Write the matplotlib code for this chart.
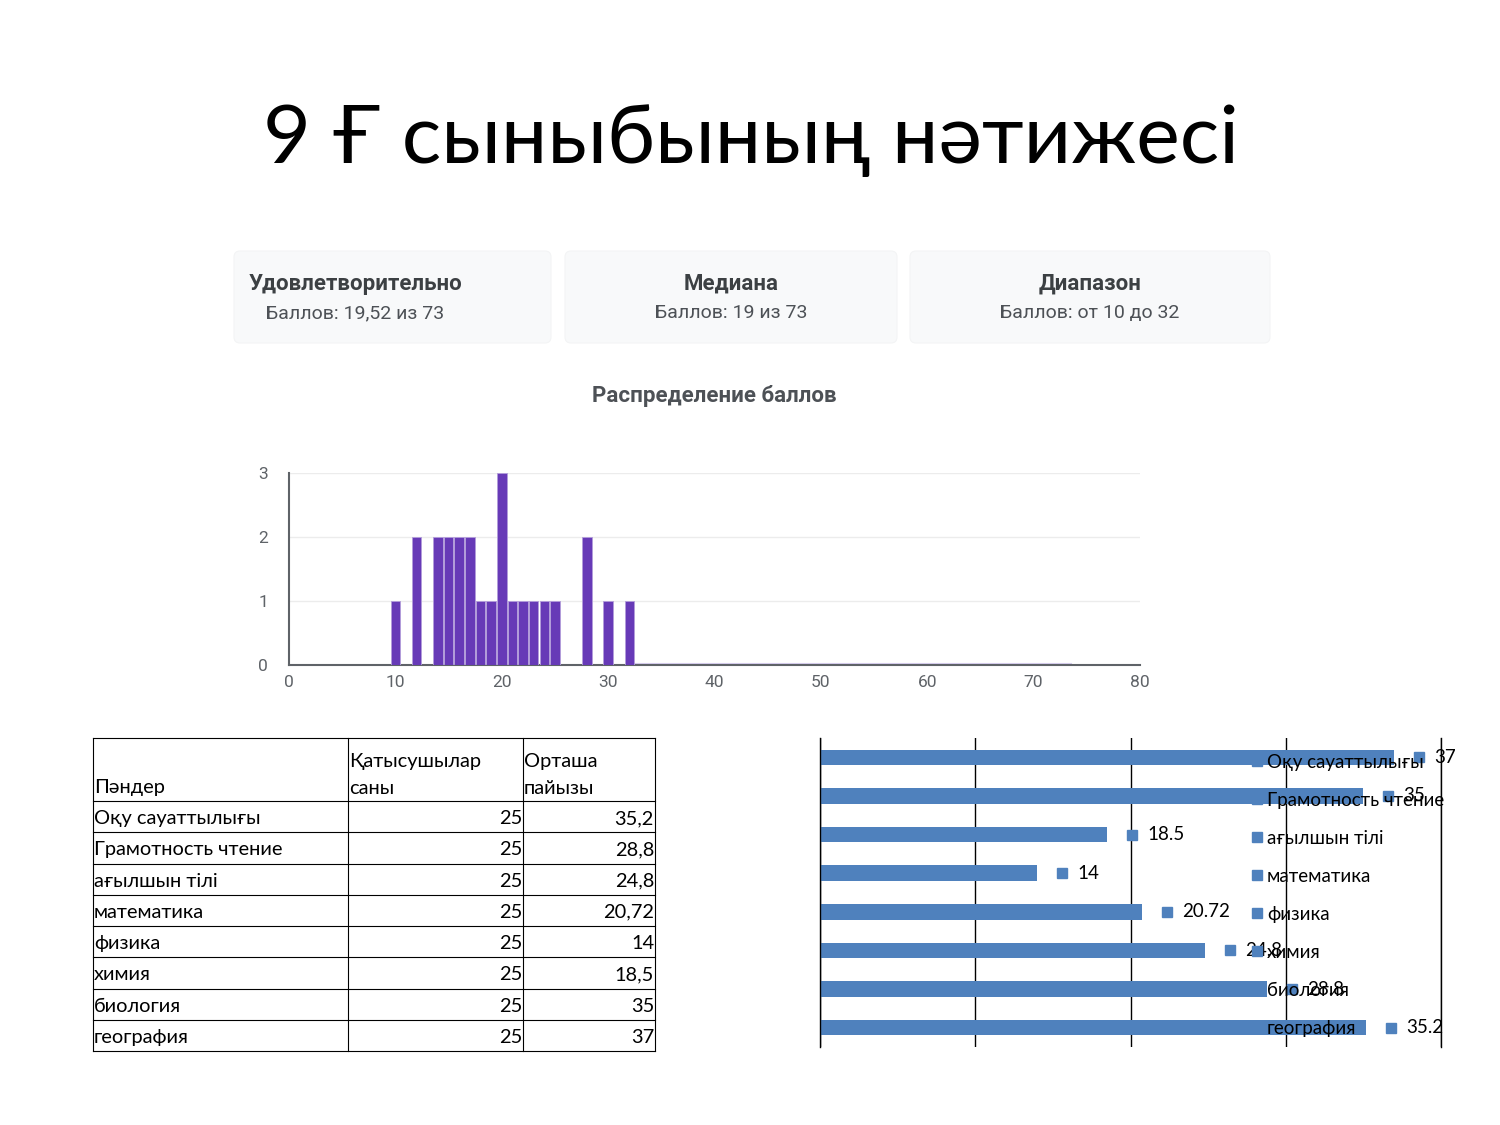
import numpy as np
import matplotlib.pyplot as plt
import matplotlib.patches as patches
from matplotlib.lines import Line2D
from matplotlib.transforms import offset_copy

TITLE = "9 Ғ сыныбының нәтижесі"

# score distribution from the Google Forms summary
scores = [10, 12, 14, 15, 16, 17, 18, 19, 20, 21, 22, 23, 24, 25, 28, 30, 32]
counts = [1, 2, 2, 2, 2, 2, 1, 1, 3, 1, 1, 1, 1, 1, 2, 1, 1]
max_points = 73
hist_ticks_x = [0, 10, 20, 30, 40, 50, 60, 70, 80]
hist_ticks_y = [0, 1, 2, 3]

card_titles = ["Удовлетворительно", "Медиана", "Диапазон"]
card_texts = ["Баллов: 19,52 из 73", "Баллов: 19 из 73", "Баллов: от 10 до 32"]
hist_title = "Распределение баллов"

# subject table / bar chart
header = ["Пәндер", "Қатысушылар\nсаны", "Орташа\nпайызы"]
subjects = ["Оқу сауаттылығы", "Грамотность чтение", "ағылшын тілі", "математика",
            "физика", "химия", "биология", "география"]
participants = [25, 25, 25, 25, 25, 25, 25, 25]
avg_pct = [35.2, 28.8, 24.8, 20.72, 14, 18.5, 35, 37]

CAL = ['Lato', 'DejaVu Sans']
ROB = ['Roboto', 'DejaVu Sans']
BLUE = '#4f81bd'
PURPLE = '#673ab7'

fig = plt.figure(figsize=(15, 11.25), dpi=100)

# page overlay in pixel units for title, cards and table
page = fig.add_axes([0, 0, 1, 1])
page.set_xlim(0, 1500)
page.set_ylim(1125, 0)
page.axis('off')

page.text(751, 140, TITLE, family=CAL, fontsize=59.4, ha='center', va='center', color='black')

# summary cards
cards = [(234, 551), (565, 897), (910, 1270)]
for i, (x0, x1) in enumerate(cards):
    box = patches.FancyBboxPatch((x0, 251), x1 - x0, 92, boxstyle="round,pad=0,rounding_size=6",
                                 facecolor='#f8f9fa', edgecolor='#f3f4f5', linewidth=0.8)
    page.add_patch(box)
    if i == 0:
        page.text(x0 + 15, 284, card_titles[i], family=ROB, fontsize=16, fontweight='bold',
                  color='#3c4043', va='center', ha='left')
        page.text(x0 + 32, 313, card_texts[i], family=ROB, fontsize=14, color='#4d5156',
                  va='center', ha='left')
    else:
        cx = (x0 + x1) / 2
        page.text(cx, 284, card_titles[i], family=ROB, fontsize=16, fontweight='bold',
                  color='#3c4043', va='center', ha='center')
        page.text(cx, 313, card_texts[i], family=ROB, fontsize=14, color='#4d5156',
                  va='center', ha='center')

page.text(714, 396, hist_title, family=ROB, fontsize=16, fontweight='bold',
          color='#4d5156', ha='center', va='center')

# table
col_x = [93, 348, 523, 655]
row_y = [738, 801] + [801 + 31.25 * (i + 1) for i in range(len(subjects))]
for y in row_y:
    page.plot([col_x[0], col_x[-1]], [y, y], color='black', lw=0.8)
for x in col_x:
    page.plot([x, x], [row_y[0], row_y[-1]], color='black', lw=0.8)

tfs = 14.4
for j, h in enumerate(header):
    lines = h.split('\n')
    for k, ln in enumerate(reversed(lines)):
        page.text(col_x[j] + 1, 788 - 27 * k, ln, family=CAL, fontsize=tfs, ha='left', va='center')
for i, name in enumerate(subjects):
    yc = (row_y[i + 1] + row_y[i + 2]) / 2 + 2
    page.text(col_x[0] + 1, yc, name, family=CAL, fontsize=tfs, ha='left', va='center')
    page.text(col_x[2] - 1, yc, str(participants[i]), family=CAL, fontsize=tfs, ha='right', va='center')
    page.text(col_x[3] - 1, yc, f"{avg_pct[i]:g}".replace('.', ','), family=CAL, fontsize=tfs,
              ha='right', va='center')

# histogram
ax = fig.add_axes([289 / 1500, 1 - 665 / 1125, 851 / 1500, 192 / 1125])
ax.bar(scores, counts, width=0.9, color=PURPLE, edgecolor='#b39ddb', linewidth=0.6, zorder=3)
ax.plot([max(scores) + 0.5, max_points + 0.5], [0.015, 0.015], color='#d9cff0', lw=1.5, zorder=2)
ax.set_xlim(0, 80)
ax.set_ylim(0, 3)
ax.set_xticks(hist_ticks_x)
ax.set_yticks(hist_ticks_y)
ax.grid(axis='y', color='#ececec', lw=1, zorder=0)
for s in ['top', 'right']:
    ax.spines[s].set_visible(False)
for s in ['left', 'bottom']:
    ax.spines[s].set_color('#5f6368')
    ax.spines[s].set_linewidth(1.5)
ax.tick_params(length=0, labelsize=12.5, labelcolor='#5f6368')
ax.tick_params(axis='y', pad=15)
ax.tick_params(axis='x', pad=7)
for lb in ax.get_xticklabels() + ax.get_yticklabels():
    lb.set_family(ROB)
ax.set_facecolor('none')

# horizontal bar chart
ax2 = fig.add_axes([820 / 1500, 1 - 1047 / 1125, 621 / 1500, 309 / 1125])
ypos = np.arange(len(subjects))
ax2.barh(ypos, avg_pct, height=0.4, color=BLUE, zorder=2)
ax2.set_xlim(0, 40)
ax2.set_ylim(-0.5, len(subjects) - 0.5)
ax2.set_xticks([0, 10, 20, 30, 40])
ax2.grid(axis='x', color='black', lw=1, zorder=1)
ax2.set_yticks([])
ax2.tick_params(length=0, labelbottom=False)
for s in ['top', 'bottom']:
    ax2.spines[s].set_visible(False)
for s in ['left', 'right']:
    ax2.spines[s].set_color('black')
    ax2.spines[s].set_linewidth(1)
mark_tr = offset_copy(ax2.transData, fig=fig, x=25, y=0, units='dots')
text_tr = offset_copy(ax2.transData, fig=fig, x=40, y=0, units='dots')
for i, v in enumerate(avg_pct):
    ax2.plot([v], [i], marker='s', ms=7, color=BLUE, transform=mark_tr, zorder=4)
    ax2.text(v, i, f"{v:g}", transform=text_tr, family=CAL, fontsize=13.5, va='center', ha='left',
             zorder=4)

handles = [Line2D([], [], marker='s', ms=7, color=BLUE, ls='none') for _ in subjects]
leg = ax2.legend(handles, subjects, loc='upper left', bbox_to_anchor=(1252 / 1500, 1 - 754 / 1125),
                 bbox_transform=fig.transFigure, frameon=False, prop={'family': 'Lato', 'size': 13.5},
                 handlelength=0.5, handletextpad=0.3, labelspacing=1.12, borderpad=0, borderaxespad=0)
leg.set_zorder(5)

fig.savefig('out.png', dpi=100, facecolor='white')
